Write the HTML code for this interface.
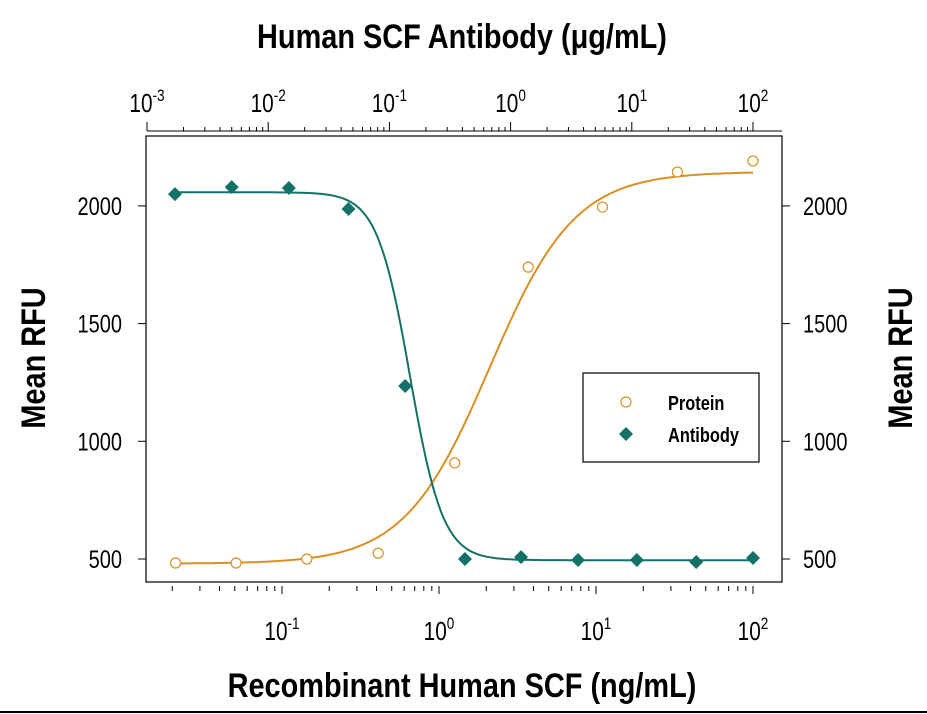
<!DOCTYPE html>
<html><head><meta charset="utf-8"><style>
body{margin:0;background:#fff;}
svg{display:block;font-family:"Liberation Sans Narrow","Liberation Sans",sans-serif;}
</style></head><body>
<svg id="chart" width="927" height="714" viewBox="0 0 927 714">
<g id="axes"></g><g id="marks"></g>
<text x="462" y="48" font-size="34" font-weight="bold" text-anchor="middle" transform="translate(462,0) scale(0.85,1) translate(-462,0)">Human SCF Antibody (μg/mL)</text>
<text x="462" y="697" font-size="34" font-weight="bold" text-anchor="middle" transform="translate(462,0) scale(0.85,1) translate(-462,0)">Recombinant Human SCF (ng/mL)</text>
<text transform="translate(45,358) rotate(-90) scale(0.85,1)" font-size="34" font-weight="bold" text-anchor="middle">Mean RFU</text>
<text transform="translate(912,358) rotate(-90) scale(0.85,1)" font-size="34" font-weight="bold" text-anchor="middle">Mean RFU</text>
<line x1="0" y1="712" x2="927" y2="712" stroke="#000" stroke-width="2"/>
<g>
<rect x="583" y="373" width="176" height="89" fill="#fff" stroke="#000" stroke-width="1.2"/>
<circle cx="626" cy="402" r="5" fill="none" stroke="#d98f22" stroke-width="1.2"/>
<path d="M626 427 L633 434 L626 441 L619 434 Z" fill="#137268"/>
<text x="668" y="410" font-size="20" font-weight="bold" transform="translate(668,0) scale(0.82,1) translate(-668,0)">Protein</text>
<text x="668" y="442" font-size="20" font-weight="bold" transform="translate(668,0) scale(0.82,1) translate(-668,0)">Antibody</text>
</g>
</svg>
<script>
// Protein (bottom axis, ng/mL)
const proteinX = [0.021, 0.051, 0.144, 0.41, 1.26, 3.7, 11, 33, 100];
const proteinY = [483, 483, 500, 525, 908, 1740, 1995, 2144, 2191];
// Antibody (top axis, ug/mL)
const antibodyX = [0.0017, 0.005, 0.0148, 0.046, 0.135, 0.42, 1.22, 3.6, 11, 34, 100];
const antibodyY = [2050, 2080, 2076, 1987, 1235, 500, 508, 496, 496, 487, 504];
const yTicks = [500, 1000, 1500, 2000];
const bottomDecades = [-1, 0, 1, 2];
const topDecades = [-3, -2, -1, 0, 1, 2];
const proteinFit = {bottom: 480, top: 2145, ec50: 2.1, hill: 1.6};
const antibodyFit = {bottom: 495, top: 2058, ec50: 0.148, hill: 3.2};

const NS = "http://www.w3.org/2000/svg";
const L = 146, R = 782, T = 136, B = 582;
const xb = v => 439 + 157 * Math.log10(v);
const xt = v => 753 + 121.2 * (Math.log10(v) - 2);
const y = v => 559 - (v - 500) * 117.7 / 500;
function mk(tag, attrs, parent) {
  const e = document.createElementNS(NS, tag);
  for (const k in attrs) e.setAttribute(k, attrs[k]);
  parent.appendChild(e); return e;
}
const narrow = x => `translate(${x},0) scale(0.8,1) translate(${-x},0)`;
const axes = document.getElementById('axes'), marks = document.getElementById('marks');
const box = mk('rect', {x: L, y: T, width: R - L, height: B - T, fill: 'none', stroke: '#000', 'stroke-width': 1.2}, axes);


// y ticks
yTicks.forEach(v => {
  const yy = y(v);
  [[L - 8, L], [R, R + 8]].forEach(([a, b], i) => {
    const t = mk('line', {x1: a, x2: b, y1: yy, y2: yy, stroke: '#000', 'stroke-width': 1}, axes);
    
    
    const lx = i ? R + 21 : L - 24;
    const lb = mk('text', {x: lx, y: yy + 9, 'font-size': 25, 'text-anchor': i ? 'start' : 'end', transform: narrow(lx)}, axes);
    lb.textContent = v;
    
    
  });
});
function sup(parent, x, yy, d, name) {
  const t = mk('text', {x: x, y: yy, 'font-size': 26, 'text-anchor': 'middle', transform: narrow(x)}, parent);
  
  
  const a = mk('tspan', {}, t); a.textContent = '10';
  const b = mk('tspan', {dy: -11, 'font-size': 17}, t); b.textContent = d;
}
// bottom axis ticks
for (let d = -2; d <= 2; d++) {
  for (let m = 1; m < 10; m++) {
    const v = m * Math.pow(10, d);
    if (v < 0.015 || v > 100.1) continue;
    const xx = xb(v);
    const t = mk('line', {x1: xx, x2: xx, y1: B + 4, y2: B + (m === 1 ? 12 : 9), stroke: '#000', 'stroke-width': 1}, axes);
    
    
  }
}
bottomDecades.forEach(d => sup(axes, xb(Math.pow(10, d)), 640, d, 'x-bottom-tick-label'));
// top axis
const tl = mk('line', {x1: xt(0.001), x2: R, y1: 131, y2: 131, stroke: '#000', 'stroke-width': 1}, axes);


for (let d = -3; d <= 2; d++) {
  for (let m = 1; m < 10; m++) {
    const v = m * Math.pow(10, d);
    if (v > 100.1) continue;
    const xx = xt(v);
    const t = mk('line', {x1: xx, x2: xx, y1: 131, y2: m === 1 ? 122 : 127, stroke: '#000', 'stroke-width': 1}, axes);
    
    
  }
}
topDecades.forEach(d => sup(axes, xt(Math.pow(10, d)), 112, d, 'x-top-tick-label'));
// fits
function curve(f, xs, color, name, lo, hi) {
  let p = '';
  for (let i = 0; i <= 200; i++) {
    const lv = Math.log10(lo) + (Math.log10(hi) - Math.log10(lo)) * i / 200;
    const v = Math.pow(10, lv);
    const r = f.bottom + (f.top - f.bottom) / (1 + Math.pow(v / f.ec50, name === 'protein-fit-curve' ? -f.hill : f.hill));
    p += (i ? 'L' : 'M') + xs(v).toFixed(1) + ' ' + y(r).toFixed(1);
  }
  const e = mk('path', {d: p, fill: 'none', stroke: color, 'stroke-width': 2}, marks);
  
  
}
curve(proteinFit, xb, '#d98f22', 'protein-fit-curve', proteinX[0], proteinX[proteinX.length - 1]);
curve(antibodyFit, xt, '#137268', 'antibody-fit-curve', antibodyX[0], antibodyX[antibodyX.length - 1]);
proteinX.forEach((v, i) => {
  const c = mk('circle', {cx: xb(v), cy: y(proteinY[i]), r: 5, fill: '#fff', stroke: '#d98f22', 'stroke-width': 1.2}, marks);
  
  
});
antibodyX.forEach((v, i) => {
  const cx = xt(v), cy = y(antibodyY[i]);
  const p = mk('path', {d: `M${cx} ${cy - 7}L${cx + 7} ${cy}L${cx} ${cy + 7}L${cx - 7} ${cy}Z`, fill: '#137268'}, marks);
  
  
});
</script>
</body></html>
